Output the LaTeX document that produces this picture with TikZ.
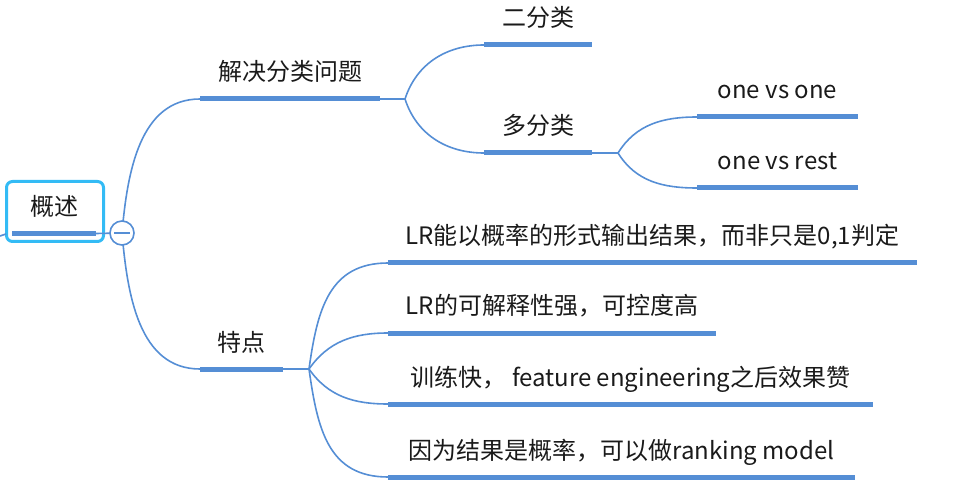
\documentclass[tikz,border=0pt]{standalone}
\usepackage{fontspec}
\setmainfont{Noto Sans CJK SC}
\definecolor{lineblue}{RGB}{85,142,213}
\definecolor{rootcyan}{RGB}{51,187,245}
\definecolor{txt}{RGB}{26,26,26}
\begin{document}
\begin{tikzpicture}[x=1pt,y=-1pt,
  bar/.style={lineblue, line width=5pt},
  link/.style={lineblue, line width=1.6pt},
  lbl/.style={anchor=base, inner sep=0pt, font=\fontsize{24}{28}\selectfont, text=txt},
]
\useasboundingbox (0,0) rectangle (968,502);

% ---------- coordinates ----------
\coordinate (lin) at (0,236);
\coordinate (rootW) at (6,234);
\coordinate (rbL) at (12,233.5);   \coordinate (rbR) at (96,233.5);
\coordinate (c) at (122,233);

\coordinate (jjL) at (200,99);  \coordinate (jjR) at (380,99);  \coordinate (jjB) at (405,99);
\coordinate (efL) at (484,45);  \coordinate (efR) at (592,45);
\coordinate (dfL) at (484,153); \coordinate (dfR) at (592,153); \coordinate (dfB) at (618,153);
\coordinate (ovoL) at (697,117); \coordinate (ovoR) at (858,117);
\coordinate (ovrL) at (697,188); \coordinate (ovrR) at (858,188);
\coordinate (tdL) at (200,369); \coordinate (tdR) at (283,369); \coordinate (tdB) at (309,369);
\coordinate (f1L) at (388,263); \coordinate (f1R) at (917,263);
\coordinate (f2L) at (388,333); \coordinate (f2R) at (716,333);
\coordinate (f3L) at (388,404); \coordinate (f3R) at (873,404);
\coordinate (f4L) at (388,477); \coordinate (f4R) at (855,477);

% ---------- root ----------
\node[draw=rootcyan, line width=3pt, rounded corners=6pt, minimum width=97pt,
      minimum height=60pt, inner sep=0pt] (root) at (55,211.5) {};
\node[lbl] (rootlbl) at (54,216) {概述};
\draw[link] (lin) -- (rootW);
\draw[bar] (rbL) -- (rbR);
\draw[link] (rbR) -- (c);

% ---------- connectors ----------
\draw[link] (c) to[out=85,in=180] (jjL);
\draw[link] (c) to[out=-85,in=180] (tdL);
\draw[link] (jjR) -- (jjB);
\draw[link] (jjB) to[out=72,in=180] (efL);
\draw[link] (jjB) to[out=-72,in=180] (dfL);
\draw[link] (dfR) -- (dfB);
\draw[link] (dfB) to[out=58,in=180] (ovoL);
\draw[link] (dfB) to[out=-58,in=180] (ovrL);
\draw[link] (tdR) -- (tdB);
\draw[link] (tdB) to[out=82,in=180,looseness=1.15] (f1L);
\draw[link] (tdB) to[out=55,in=180] (f2L);
\draw[link] (tdB) to[out=-55,in=180] (f3L);
\draw[link] (tdB) to[out=-82,in=180,looseness=1.15] (f4L);

% ---------- bars ----------
\draw[bar] (jjL) -- (jjR);
\draw[bar] (efL) -- (efR);
\draw[bar] (dfL) -- (dfR);
\draw[bar] (ovoL) -- (ovoR);
\draw[bar] (ovrL) -- (ovrR);
\draw[bar] (tdL) -- (tdR);
\draw[bar] (f1L) -- (f1R);
\draw[bar] (f2L) -- (f2R);
\draw[bar] (f3L) -- (f3R);
\draw[bar] (f4L) -- (f4R);

% ---------- collapse circle ----------
\node[circle, draw=lineblue, line width=1.6pt, fill=white, minimum size=24pt, inner sep=0pt] (coll) at (c) {};
\draw[lineblue, line width=2pt] ([xshift=-8pt]coll.center) -- ([xshift=8pt]coll.center);

% ---------- labels ----------
\node[lbl] (t-jj) at (290,81) {解决分类问题};
\node[lbl] (t-ef) at (538,27) {二分类};
\node[lbl] (t-df) at (538,135) {多分类};
\node[lbl] (t-ovo) at (777.5,99) {one vs one};
\node[lbl] (t-ovr) at (777.5,170) {one vs rest};
\node[lbl] (t-td) at (241.5,351) {特点};
\node[lbl] (t-f1) at (652.5,245) {LR能以概率的形式输出结果，而非只是0,1判定};
\node[lbl] (t-f2) at (552,315) {LR的可解释性强，可控度高};
\node[lbl] (t-f3) at (630.5,386) {训练快， feature engineering之后效果赞};
\node[lbl] (t-f4) at (621.5,459) {因为结果是概率，可以做ranking model};
\end{tikzpicture}
\end{document}
